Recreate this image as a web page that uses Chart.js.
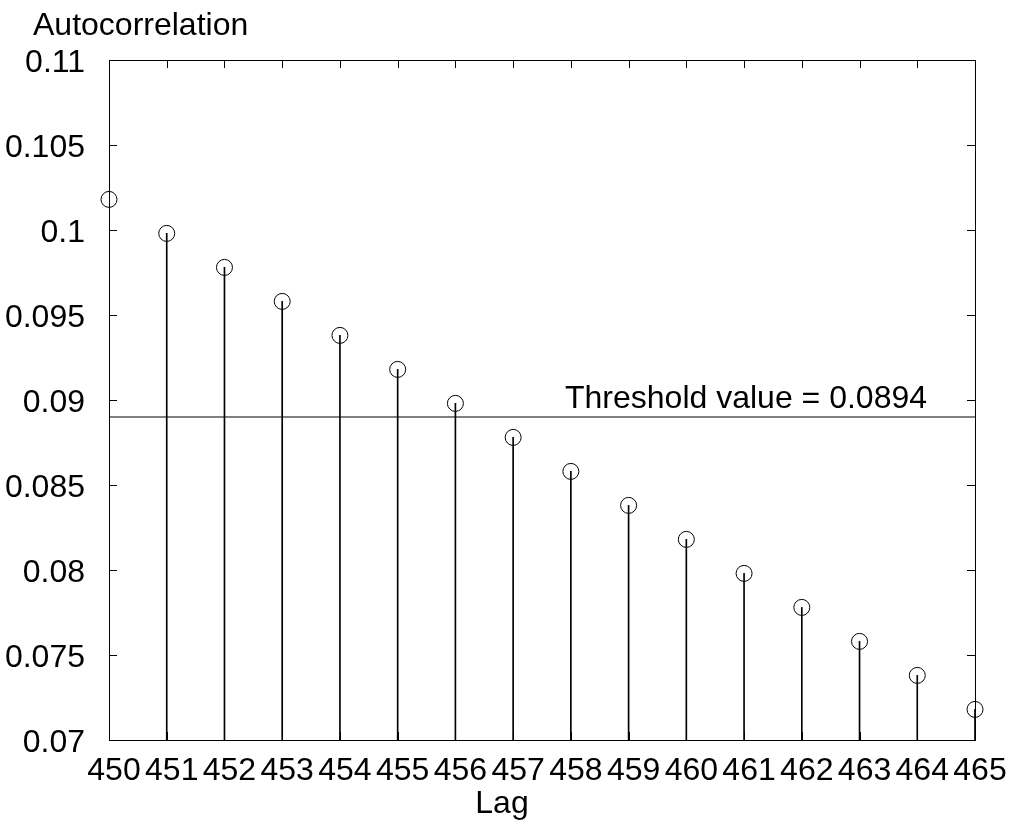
<!DOCTYPE html>
<html>
<head>
<meta charset="utf-8">
<script src="https://cdn.jsdelivr.net/npm/chart.js@4/dist/chart.umd.min.js"></script>
<style>
  body { margin: 0; background: #fff; }
</style>
</head>
<body>
<canvas id="acfChart" width="1015" height="825"></canvas>
<script>
const lags = [450, 451, 452, 453, 454, 455, 456, 457, 458, 459, 460, 461, 462, 463, 464, 465];
const acf = [0.1018, 0.0998, 0.0978, 0.0958, 0.0938, 0.0918, 0.0898, 0.0878,
             0.0858, 0.0838, 0.0818, 0.0798, 0.0778, 0.0758, 0.0738, 0.0718];
const thresholdLevel = 0.089;
const thresholdText = 'Threshold value = 0.0894';
const yMin = 0.07, yMax = 0.11, yStep = 0.005;

const FONT = '"Liberation Sans", Arial, sans-serif';

// frame, inward ticks and free text
const decorations = {
  id: 'decorations',
  afterDraw(chart) {
    const { ctx, chartArea: a, scales } = chart;
    ctx.save();
    ctx.strokeStyle = '#000';
    ctx.lineWidth = 1;
    ctx.strokeRect(Math.round(a.left) + 0.5, Math.round(a.top) + 0.5,
                   Math.round(a.right - a.left), Math.round(a.bottom - a.top));
    const len = 8;
    ctx.beginPath();
    scales.y.ticks.forEach(t => {
      const py = Math.round(scales.y.getPixelForValue(t.value)) + 0.5;
      ctx.moveTo(a.left, py); ctx.lineTo(a.left + len, py);
      ctx.moveTo(a.right, py); ctx.lineTo(a.right - len, py);
    });
    scales.x.ticks.forEach(t => {
      const px = Math.round(scales.x.getPixelForValue(t.value)) + 0.5;
      ctx.moveTo(px, a.top); ctx.lineTo(px, a.top + len);
      ctx.moveTo(px, a.bottom); ctx.lineTo(px, a.bottom - len);
    });
    ctx.stroke();

    ctx.fillStyle = '#000';
    ctx.font = '32px ' + FONT;
    ctx.textBaseline = 'alphabetic';
    ctx.textAlign = 'left';
    ctx.fillText('Autocorrelation', 33, 35);
    ctx.fillText(thresholdText, 565, scales.y.getPixelForValue(thresholdLevel) - 9);
    ctx.textAlign = 'center';
    ctx.fillText('Lag', 502, 813);
    ctx.restore();
  }
};

new Chart(document.getElementById('acfChart').getContext('2d'), {
  type: 'scatter',
  data: {
    datasets: [
      {
        type: 'line',
        data: [{ x: lags[0], y: thresholdLevel }, { x: lags[lags.length - 1], y: thresholdLevel }],
        borderColor: '#000',
        borderWidth: 1,
        pointRadius: 0,
        order: 3
      },
      {
        type: 'bar',
        data: lags.map((l, i) => ({ x: l, y: [yMin, acf[i]] })),
        backgroundColor: '#000',
        barThickness: 1,
        borderWidth: 0,
        order: 2
      },
      {
        data: lags.map((l, i) => ({ x: l, y: acf[i] })),
        pointRadius: 8,
        pointStyle: 'circle',
        backgroundColor: 'rgba(0,0,0,0)',
        borderColor: '#000',
        borderWidth: 1,
        clip: false,
        order: 1
      }
    ]
  },
  options: {
    responsive: false,
    animation: false,
    layout: { padding: { top: 60, right: 40, bottom: 0, left: 0 } },
    plugins: { legend: { display: false }, tooltip: { enabled: false } },
    scales: {
      x: {
        type: 'linear',
        min: 450,
        max: 465,
        offset: false,
        grid: { display: false },
        border: { display: false },
        ticks: {
          stepSize: 1,
          color: '#000',
          font: { family: FONT, size: 32 },
          padding: 4,
          labelOffset: 5,
          maxRotation: 0,
          autoSkip: false,
          callback: v => String(v)
        },
        afterFit: s => { s.height = 85; }
      },
      y: {
        min: yMin,
        max: yMax,
        grid: { display: false },
        border: { display: false },
        ticks: {
          stepSize: yStep,
          color: '#000',
          font: { family: FONT, size: 32 },
          padding: 16,
          labelOffset: 3,
          callback: v => String(parseFloat(v.toFixed(3)))
        },
        afterFit: s => { s.width = 109; }
      }
    }
  },
  plugins: [decorations]
});
</script>
</body>
</html>
